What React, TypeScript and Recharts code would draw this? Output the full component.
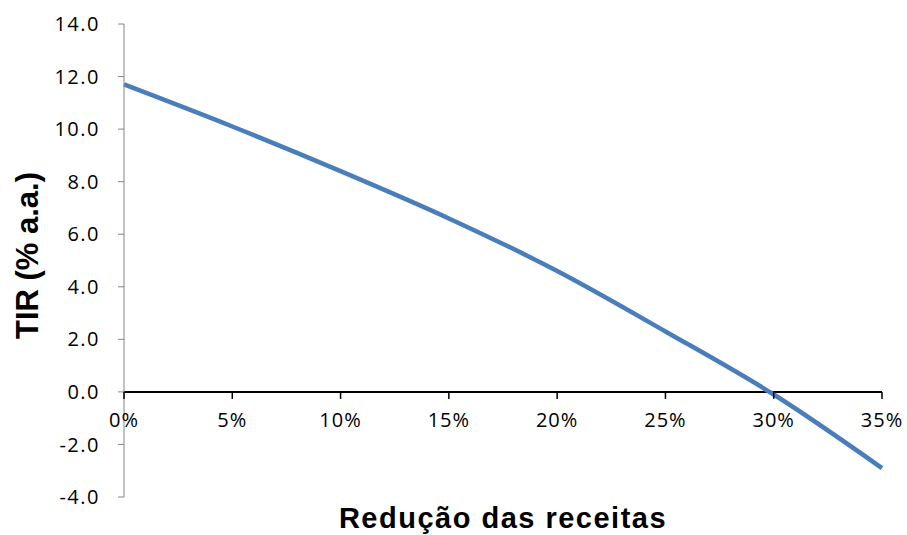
import React from 'react';
import { LineChart, Line, XAxis, YAxis, ReferenceLine, ReferenceDot } from 'recharts';

// Redução das receitas (x) vs TIR (% a.a.)
const categories = ['0%', '5%', '10%', '15%', '20%', '25%', '30%', '35%'];
const tirValues = [11.7, 10.1, 8.4, 6.6, 4.6, 2.3, -0.1, -2.9];
const yTicks = [-4, -2, 0, 2, 4, 6, 8, 10, 12, 14];

const chartData = categories.map((c, i) => ({ cat: c, tir: tirValues[i] }));

const TICK_FONT = "'Open Sans', sans-serif";
const TITLE_FONT = "'Liberation Sans', Arial, sans-serif";

// x-axis crosses the value axis at zero, so the category ticks sit on the zero line
function ZeroTick(props: any) {
  const { cx, cy, label } = props;
  return (
    <g>
      <line x1={cx} y1={cy} x2={cx} y2={cy + 7} stroke="#000" strokeWidth={1.5} />
      <text
        x={cx}
        y={cy + 35}
        textAnchor="middle"
        fontFamily={TICK_FONT}
        fontSize={20}
        letterSpacing={1}
        fill="#000"
      >
        {label}
      </text>
    </g>
  );
}

function YTick(props: any) {
  const { x, y, payload } = props;
  return (
    <text
      x={x}
      y={y}
      dy="0.355em"
      textAnchor="end"
      fontFamily={TICK_FONT}
      fontSize={20}
      letterSpacing={1.5}
      fill="#000"
    >
      {Number(payload.value).toFixed(1)}
    </text>
  );
}

function YTitle(props: any) {
  const vb = props.viewBox;
  const cx = vb.x + 27;
  const cy = vb.y + vb.height / 2 - 5;
  return (
    <text
      x={cx}
      y={cy}
      transform={`rotate(-90, ${cx}, ${cy})`}
      textAnchor="middle"
      dominantBaseline="central"
      fontFamily={TITLE_FONT}
      fontWeight="bold"
      fontSize={31}
      fill="#000"
    >
      TIR (% a.a.)
    </text>
  );
}

export default function App() {
  return (
    <div style={{ position: 'absolute', left: 0, top: 0, width: 907, height: 535, background: '#fff' }}>
      <LineChart
        width={907}
        height={535}
        data={chartData}
        margin={{ top: 24, right: 25, bottom: 38, left: 0 }}
      >
        <XAxis dataKey="cat" hide />
        <YAxis
          domain={[-4, 14]}
          ticks={yTicks}
          interval={0}
          width={124}
          stroke="#868686"
          tickSize={6}
          tickMargin={18}
          tick={<YTick />}
          label={<YTitle />}
        />
        <ReferenceLine y={0} stroke="#000" strokeWidth={2} ifOverflow="visible" />
        {categories.map((c) => (
          <ReferenceDot
            key={c}
            x={c}
            y={0}
            r={0}
            ifOverflow="visible"
            shape={(p: any) => <ZeroTick {...p} label={c} />}
          />
        ))}
        <Line
          type="monotone"
          dataKey="tir"
          stroke="#4a7ebb"
          strokeWidth={4.5}
          dot={false}
          isAnimationActive={false}
        />
      </LineChart>
      <div
        style={{
          position: 'absolute',
          left: 124,
          width: 758,
          top: 502,
          textAlign: 'center',
          fontFamily: TITLE_FONT,
          fontWeight: 'bold',
          fontSize: 29,
          letterSpacing: 1.5,
          lineHeight: '33px',
          color: '#000',
        }}
      >
        Redução das receitas
      </div>
    </div>
  );
}
